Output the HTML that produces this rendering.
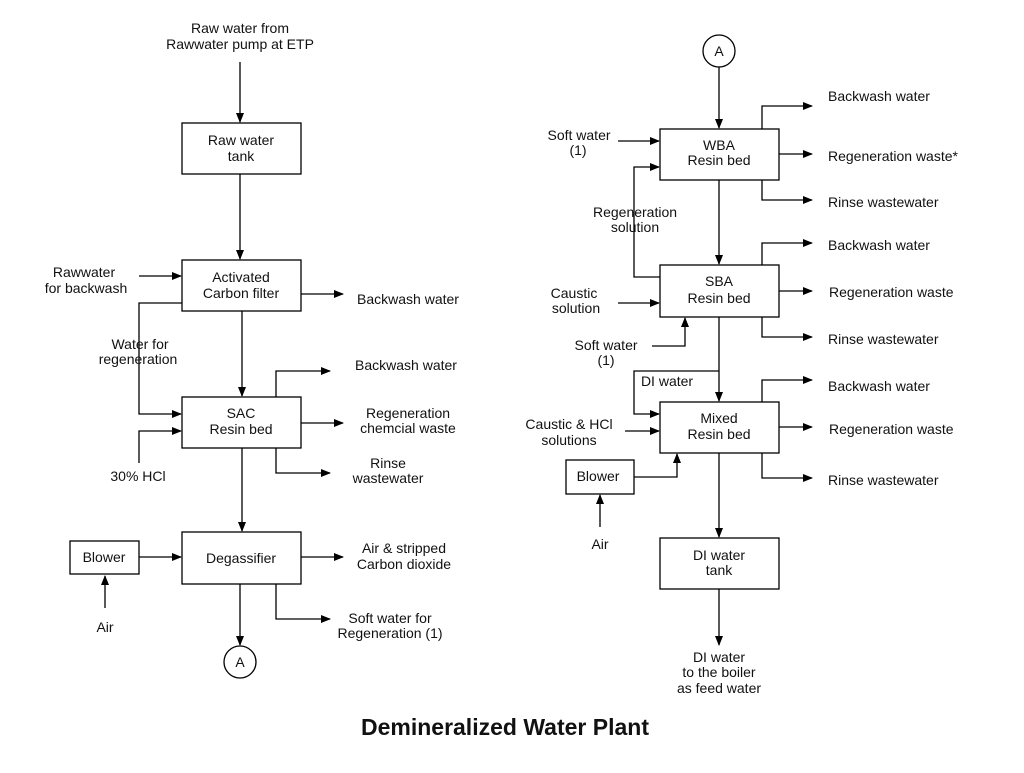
<!DOCTYPE html>
<html><head><style>
body{margin:0;background:#fff}
svg text{font-family:"Liberation Sans",sans-serif;font-size:14px;fill:#111}
</style></head><body>
<svg width="1024" height="768" viewBox="0 0 1024 768" xmlns="http://www.w3.org/2000/svg">
<defs><marker id="a" markerWidth="10" markerHeight="8" refX="9" refY="4" orient="auto" markerUnits="userSpaceOnUse"><path d="M0,0L10,4L0,8z" fill="#000"/></marker></defs>
<g fill="none" stroke="#000" stroke-width="1.3">
<rect x="182" y="123" width="119" height="51"/>
<rect x="182" y="260" width="119" height="51"/>
<rect x="182" y="397" width="119" height="51"/>
<rect x="182" y="532" width="119" height="52"/>
<rect x="70" y="541" width="69" height="33"/>
<circle cx="240" cy="662" r="16"/>
<rect x="660" y="129" width="119" height="51"/>
<rect x="660" y="265" width="119" height="52"/>
<rect x="660" y="402" width="119" height="51"/>
<rect x="660" y="538" width="119" height="51"/>
<rect x="566" y="460" width="68" height="34"/>
<circle cx="719" cy="51" r="16"/>
</g>
<g fill="none" stroke="#000" stroke-width="1.3" marker-end="url(#a)">
<path d="M240 62V122"/>
<path d="M240 174V259"/>
<path d="M139 276H181"/>
<path d="M301 294H343"/>
<path d="M182 303H139V414H181"/>
<path d="M139 463V431H181"/>
<path d="M242 311V396"/>
<path d="M276 397V371H330"/>
<path d="M301 423H343"/>
<path d="M276 448V473H330"/>
<path d="M242 448V531"/>
<path d="M139 557H181"/>
<path d="M105 608V576"/>
<path d="M301 557H343"/>
<path d="M276 584V619H330"/>
<path d="M240 584V645"/>
<path d="M719 67V128"/>
<path d="M762 129V106H812"/>
<path d="M779 154H812"/>
<path d="M762 180V200H812"/>
<path d="M618 141H659"/>
<path d="M660 277H634V167H659"/>
<path d="M719 180V264"/>
<path d="M762 265V243H812"/>
<path d="M779 291H812"/>
<path d="M762 317V337H812"/>
<path d="M618 303H659"/>
<path d="M652 346H685V318"/>
<path d="M719 317V401"/>
<path d="M719 371H634V414H659"/>
<path d="M762 402V380H812"/>
<path d="M779 427H812"/>
<path d="M762 453V478H812"/>
<path d="M625 431H659"/>
<path d="M634 477H677V454"/>
<path d="M600 527V495"/>
<path d="M719 453V537"/>
<path d="M719 589V645"/>
</g>
<g text-anchor="middle">
<text x="240" y="33">Raw water from</text><text x="240" y="49">Rawwater pump at ETP</text>
<text x="241" y="145">Raw water</text><text x="241" y="161">tank</text>
<text x="241" y="282">Activated</text><text x="241" y="298">Carbon filter</text>
<text x="241" y="418">SAC</text><text x="241" y="434">Resin bed</text>
<text x="241" y="563">Degassifier</text>
<text x="104" y="562">Blower</text>
<text x="105" y="632">Air</text>
<text x="240" y="667" font-size="12">A</text>
<text x="84" y="277">Rawwater</text><text x="86" y="293">for backwash</text>
<text x="140" y="349">Water for</text><text x="138" y="364">regeneration</text>
<text x="138" y="481">30% HCl</text>
<text x="408" y="304">Backwash water</text>
<text x="406" y="370">Backwash water</text>
<text x="408" y="418">Regeneration</text><text x="408" y="433">chemcial waste</text>
<text x="388" y="468">Rinse</text><text x="388" y="483">wastewater</text>
<text x="404" y="553">Air &amp; stripped</text><text x="404" y="569">Carbon dioxide</text>
<text x="390" y="623">Soft water for</text><text x="390" y="638">Regeneration (1)</text>
<text x="719" y="56" font-size="12">A</text>
<text x="719" y="150">WBA</text><text x="719" y="165">Resin bed</text>
<text x="719" y="286">SBA</text><text x="719" y="303">Resin bed</text>
<text x="719" y="423">Mixed</text><text x="719" y="439">Resin bed</text>
<text x="719" y="560">DI water</text><text x="719" y="575">tank</text>
<text x="598" y="481">Blower</text>
<text x="600" y="549">Air</text>
<text x="579" y="140">Soft water</text><text x="578" y="155">(1)</text>
<text x="635" y="217">Regeneration</text><text x="635" y="232">solution</text>
<text x="574" y="298">Caustic</text><text x="576" y="313">solution</text>
<text x="606" y="350">Soft water</text><text x="606" y="365">(1)</text>
<text x="667" y="386">DI water</text>
<text x="569" y="429">Caustic &amp; HCl</text><text x="569" y="445">solutions</text>
<text x="719" y="662">DI water</text><text x="719" y="677">to the boiler</text><text x="719" y="693">as feed water</text>
</g>
<g>
<text x="828" y="101">Backwash water</text>
<text x="828" y="161">Regeneration waste*</text>
<text x="828" y="207">Rinse wastewater</text>
<text x="828" y="250">Backwash water</text>
<text x="829" y="297">Regeneration waste</text>
<text x="828" y="344">Rinse wastewater</text>
<text x="828" y="391">Backwash water</text>
<text x="829" y="434">Regeneration waste</text>
<text x="828" y="485">Rinse wastewater</text>
</g>
<text x="505" y="735" text-anchor="middle" style="font-size:23px;font-weight:bold">Demineralized Water Plant</text>
</svg>
</body></html>
